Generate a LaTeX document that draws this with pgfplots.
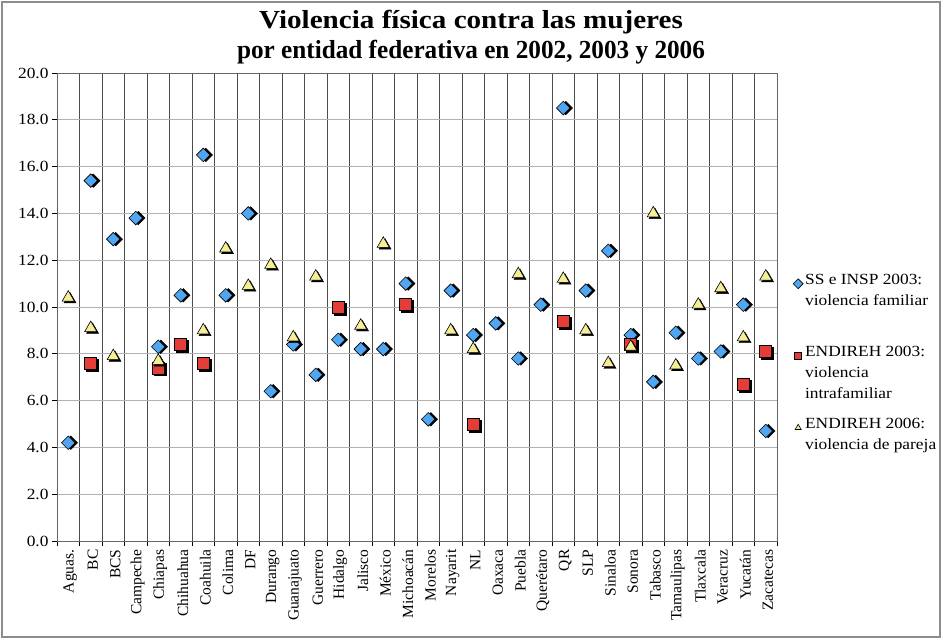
\documentclass[border=0pt]{standalone}
\usepackage{pgfplots}
\pgfplotsset{compat=1.18}
\usepackage{pgfplotstable}
\usepackage{fontspec}
\setmainfont{Liberation Serif}[FakeStretch=1.12]
\newfontfamily\plainserif{Liberation Serif}
\newfontfamily\narrowserif{Liberation Serif}[FakeStretch=0.97]

\definecolor{cblue}{RGB}{80,166,240}
\definecolor{cred}{RGB}{228,60,55}
\definecolor{cyel}{RGB}{245,238,150}

% x = category index, ss = SS e INSP 2003, e03 = ENDIREH 2003, e06 = ENDIREH 2006
\pgfplotstableread{
x  ss   e03  e06
0  4.2  nan  10.4
1  15.4 7.6  9.1
2  12.9 nan  7.9
3  13.8 nan  nan
4  8.3  7.4  7.7
5  10.5 8.4  nan
6  16.5 7.6  9.0
7  10.5 nan  12.5
8  14.0 nan  10.9
9  6.4  nan  11.8
10 8.4  nan  8.7
11 7.1  nan  11.3
12 8.6  10.0 nan
13 8.2  nan  9.2
14 8.2  nan  12.7
15 11.0 10.1 nan
16 5.2  nan  nan
17 10.7 nan  9.0
18 8.8  5.0  8.2
19 9.3  nan  nan
20 7.8  nan  11.4
21 10.1 nan  nan
22 18.5 9.4  11.2
23 10.7 nan  9.0
24 12.4 nan  7.6
25 8.8  8.4  8.3
26 6.8  nan  14.0
27 8.9  nan  7.5
28 7.8  nan  10.1
29 8.1  nan  10.8
30 10.1 6.7  8.7
31 4.7  8.1  11.3
}\datos

\begin{document}
\begin{tikzpicture}
\useasboundingbox (-57pt,-98pt) rectangle (885pt,541pt);
\draw[black!45, line width=2pt] (-55pt,-96pt) rectangle (883pt,539pt);
\node[font=\bfseries\fontsize{26}{30}\selectfont] at (414pt,519pt) {Violencia física contra las mujeres};
\node[font=\narrowserif\bfseries\fontsize{26}{30}\selectfont] at (414pt,489pt) {por entidad federativa en 2002, 2003 y 2006};

\begin{axis}[
  scale only axis, width=720pt, height=468pt,
  xmin=-0.5, xmax=31.5, ymin=0, ymax=20,
  xtick={0,...,31},
  xticklabels={Aguas.,BC,BCS,Campeche,Chiapas,Chihuahua,Coahuila,Colima,DF,Durango,Guanajuato,Guerrero,Hidalgo,Jalisco,México,Michoacán,Morelos,Nayarit,NL,Oaxaca,Puebla,Querétaro,QR,SLP,Sinaloa,Sonora,Tabasco,Tamaulipas,Tlaxcala,Veracruz,Yucatán,Zacatecas},
  major x tick style={draw=none},
  minor xtick={-0.5,0.5,...,31.5},
  xminorgrids, minor x grid style={black!70, line width=0.8pt},
  ytick={0,2,...,20},
  ymajorgrids, major y grid style={black!30, line width=0.8pt},
  tick align=outside, tick pos=left,
  major tick length=5pt, minor tick length=5pt,
  tick style={black, line width=0.8pt},
  axis line style={black!60, line width=0.8pt},
  x tick label style={rotate=90, anchor=east, yshift=-2pt, font=\plainserif\fontsize{15.5}{17}\selectfont},
  y tick label style={font=\fontsize{15.5}{17}\selectfont},
  yticklabel style={/pgf/number format/.cd, fixed, fixed zerofill, precision=1, assume math mode=true},
  legend style={at={(1,0.58)}, anchor=north west, xshift=13pt, draw=none, fill=none,
    font=\fontsize{15.5}{21}\selectfont, row sep=14pt, nodes={align=left},
    cells={anchor=north west}},
  legend image post style={mark size=3.5pt, yshift=-12pt},
]
\addplot[only marks, forget plot, mark=square*, mark size=4.8pt,
  mark options={rotate=45, black, xshift=1.8pt, yshift=-1.8pt}] table[x=x,y=ss]{\datos};
\addplot[only marks, mark=square*, mark size=4.8pt,
  mark options={rotate=45, fill=cblue, draw=black, line width=0.6pt}] table[x=x,y=ss]{\datos};
\addlegendentry{SS e INSP 2003:\\violencia familiar\\ {}}

\addplot[only marks, forget plot, mark=square*, mark size=6pt,
  mark options={black, xshift=1.8pt, yshift=-1.8pt}] table[x=x,y=e03]{\datos};
\addplot[only marks, mark=square*, mark size=6pt,
  mark options={fill=cred, draw=black, line width=0.6pt}] table[x=x,y=e03]{\datos};
\addlegendentry{ENDIREH 2003:\\violencia\\intrafamiliar}

\addplot[only marks, forget plot, mark=triangle*, mark size=7pt,
  mark options={black, xshift=1.8pt, yshift=-1.8pt}] table[x=x,y=e06]{\datos};
\addplot[only marks, mark=triangle*, mark size=7pt,
  mark options={fill=cyel, draw=black, line width=0.6pt}] table[x=x,y=e06]{\datos};
\addlegendentry{ENDIREH 2006:\\violencia de pareja}
\end{axis}
\end{tikzpicture}
\end{document}
